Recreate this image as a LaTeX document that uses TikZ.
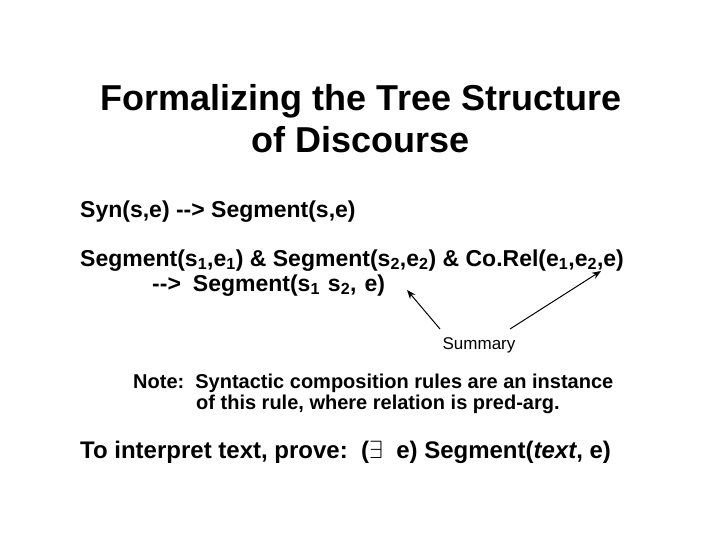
\documentclass[tikz,border=0pt]{standalone}
\usepackage{fontspec}
\setmainfont{Liberation Sans}
\usetikzlibrary{arrows.meta}
\newcommand{\sbs}[1]{\textsubscript{#1}}
\begin{document}
\begin{tikzpicture}[x=1pt,y=-1pt,
  txt/.style={anchor=base west,inner sep=0pt,font=\bfseries\fontsize{23}{27}\selectfont},
  note/.style={anchor=base west,inner sep=0pt,font=\bfseries\fontsize{20}{23}\selectfont},
  arr/.style={-{Stealth[length=9pt,width=7pt]},line width=1pt}]
\useasboundingbox[fill=white] (0,0) rectangle (720,540);
\node[anchor=base,inner sep=0pt,font=\bfseries\fontsize{36}{42}\selectfont] (t1) at (361,111) {Formalizing the Tree Structure};
\node[anchor=base,inner sep=0pt,font=\bfseries\fontsize{36}{42}\selectfont] (t2) at (361,153) {of Discourse};
\node[txt] (l1) at (80,218) {Syn(s,e) {-}{-}> Segment(s,e)};
\node[txt] (l2) at (80,266) {Segment(s\sbs{1},e\sbs{1}) \& Segment(s\sbs{2},e\sbs{2}) \& Co.Rel(e\sbs{1},e\sbs{2},e)};
\node[txt] (l3) at (152,291) {{-}{-}>\hspace{12pt}Segment(s\sbs{1}\hspace{8pt}s\sbs{2},\hspace{8pt}e)};
\node[anchor=base,inner sep=0pt,font=\fontsize{17}{20}\selectfont] (sum) at (479,349) {Summary};
\coordinate (a1) at (407,290);
\coordinate (a2) at (601,271);
\draw[arr] (440,329) -- (a1);
\draw[arr] (510,329) -- (a2);
\node[note] (n1) at (133,388) {Note:\ \ Syntactic composition rules are an instance};
\node[note] (n2) at (196,409) {of this rule, where relation is pred-arg.};
\node[txt,font=\bfseries\fontsize{24}{28}\selectfont] (l4) at (80,458) {To interpret text, prove:\ \ ({\normalfont$\exists$}\ \ e) Segment(\textit{text}, e)};
\end{tikzpicture}
\end{document}
